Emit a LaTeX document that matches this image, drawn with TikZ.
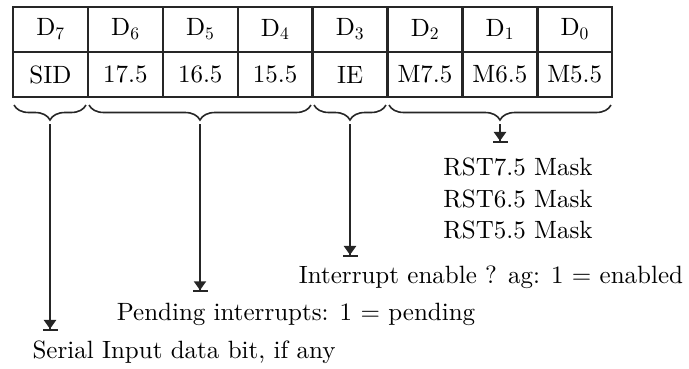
\documentclass[tikz,border=0pt]{standalone}
\usepackage{fontspec}
\setmainfont{lmroman10-regular}[Extension=.otf]
\usetikzlibrary{arrows.meta,decorations.pathreplacing}
\begin{document}
\begin{tikzpicture}[x=1pt,y=1pt,
    cell/.style={draw=black!85,line width=2.4pt,minimum width=74.9pt,minimum height=45pt,inner sep=0pt,font=\fontsize{25}{29}\selectfont},
    curly/.style={decorate,decoration={brace,amplitude=15pt,mirror},line width=1.6pt,black!85},
    pointer/.style={line width=2.2pt,black!85,shorten <=4pt,-{Triangle[length=9pt,width=12pt]Bar[width=15pt]}},
    note/.style={inner sep=0pt,font=\fontsize{25}{29}\selectfont}]
    \useasboundingbox (0,0) rectangle (689,-368);

    % Bit numbers
    \node[cell] (d7) at (50.45,-29.5) {D\textsubscript{7}};
    \node[cell] (d6) at (125.35,-29.5) {D\textsubscript{6}};
    \node[cell] (d5) at (200.25,-29.5) {D\textsubscript{5}};
    \node[cell] (d4) at (275.15,-29.5) {D\textsubscript{4}};
    \node[cell] (d3) at (350.05,-29.5) {D\textsubscript{3}};
    \node[cell] (d2) at (424.95,-29.5) {D\textsubscript{2}};
    \node[cell] (d1) at (499.85,-29.5) {D\textsubscript{1}};
    \node[cell] (d0) at (574.75,-29.5) {D\textsubscript{0}};

    % Bit meanings
    \node[cell] (sid) at (50.45,-74.5) {SID};
    \node[cell] (i75) at (125.35,-74.5) {17.5};
    \node[cell] (i65) at (200.25,-74.5) {16.5};
    \node[cell] (i55) at (275.15,-74.5) {15.5};
    \node[cell] (ie) at (350.05,-74.5) {IE};
    \node[cell] (m75) at (424.95,-74.5) {M7.5};
    \node[cell] (m65) at (499.85,-74.5) {M6.5};
    \node[cell] (m55) at (574.75,-74.5) {M5.5};

    % Group braces
    \draw[curly] (14,-105) -- (86,-105);
    \draw[curly] (89,-105) -- (311,-105);
    \draw[curly] (314,-105) -- (386,-105);
    \draw[curly] (389,-105) -- (611,-105);
    \coordinate (b7) at (50,-120);
    \coordinate (b64) at (200,-120);
    \coordinate (b3) at (350,-120);
    \coordinate (b20) at (500,-120);

    % Descriptions
    \node[note,anchor=base] (serial) at (184,-358) {Serial Input data bit, if any};
    \node[note,anchor=base] (pending) at (296,-320) {Pending interrupts: 1 = pending};
    \node[note,anchor=base] (enable) at (491,-283) {Interrupt enable ? ag: 1 = enabled};
    \node[note,anchor=base] (mask75) at (518,-175) {RST7.5 Mask};
    \node[note,anchor=base] (mask65) at (518,-207) {RST6.5 Mask};
    \node[note,anchor=base] (mask55) at (518,-238) {RST5.5 Mask};

    % Pointers
    \draw[pointer] (b7) -- ([yshift=9pt]serial.north -| b7);
    \draw[pointer] (b64) -- ([yshift=10pt]pending.north -| b64);
    \draw[pointer] (b3) -- ([yshift=8pt]enable.north -| b3);
    \draw[pointer] (b20) -- ([yshift=14pt]mask75.north -| b20);
\end{tikzpicture}
\end{document}
